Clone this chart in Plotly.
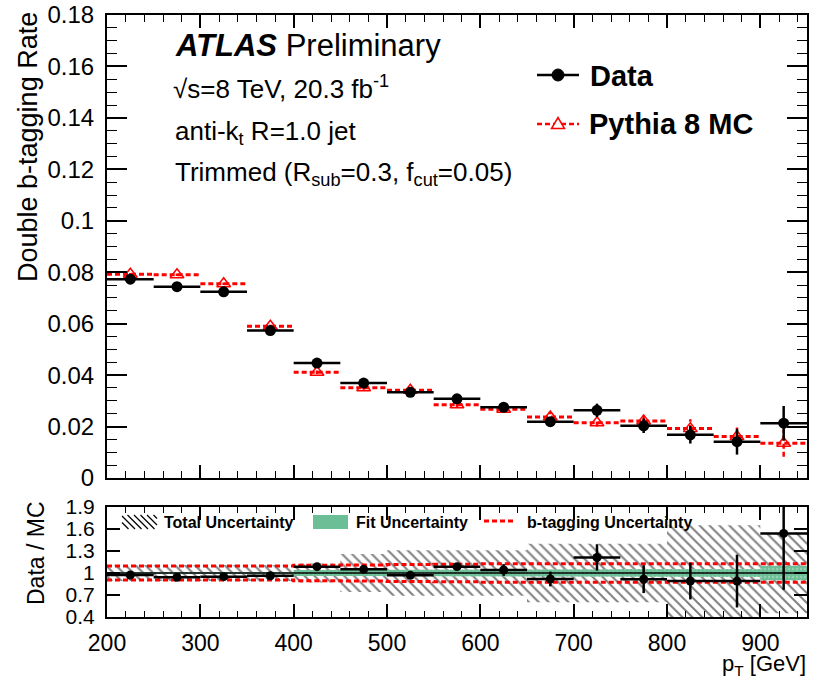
import plotly.graph_objects as go

# ---------------- data ----------------
bin_edges = [200, 250, 300, 350, 400, 450, 500, 550, 600, 650, 700, 750, 800, 850, 900, 950]
pt_centers = [225, 275, 325, 375, 425, 475, 525, 575, 625, 675, 725, 775, 825, 875, 925]
half_width = [25] * 15

data_rate = [0.0773, 0.0744, 0.0724, 0.0573, 0.0447, 0.0369, 0.0333, 0.0308,
             0.0275, 0.0219, 0.0263, 0.0203, 0.0168, 0.0141, 0.0213]
data_err = [0.0008, 0.0008, 0.0008, 0.0008, 0.0010, 0.0010, 0.0010, 0.0012,
            0.0015, 0.0015, 0.0026, 0.0028, 0.0034, 0.0050, 0.0067]
mc_rate = [0.0792, 0.0790, 0.0755, 0.0590, 0.0411, 0.0351, 0.0341, 0.0285,
           0.0267, 0.0237, 0.0215, 0.0222, 0.0192, 0.0161, 0.0135]
mc_err = [0.0005, 0.0005, 0.0005, 0.0006, 0.0007, 0.0008, 0.0009, 0.0010,
          0.0012, 0.0020, 0.0015, 0.0030, 0.0036, 0.0035, 0.0052]

ratio = [0.973, 0.941, 0.950, 0.963, 1.086, 1.050, 0.968, 1.086,
         1.041, 0.918, 1.212, 0.916, 0.890, 0.890, 1.540]
ratio_err = [0.015, 0.015, 0.015, 0.020, 0.030, 0.035, 0.040, 0.050,
             0.080, 0.100, 0.180, 0.190, 0.250, 0.360, 0.770]
total_unc = [0.11, 0.11, 0.11, 0.11, 0.13, 0.26, 0.31, 0.31,
             0.31, 0.40, 0.40, 0.40, 0.65, 0.65, 0.55]
fit_unc = [0.015, 0.015, 0.015, 0.015, 0.040, 0.040, 0.040, 0.045,
           0.050, 0.050, 0.050, 0.055, 0.055, 0.055, 0.100]
btag_unc = [0.095, 0.095, 0.095, 0.095, 0.105, 0.110, 0.115, 0.120,
            0.125, 0.125, 0.125, 0.125, 0.125, 0.125, 0.125]

rate_ticks = [0, 0.02, 0.04, 0.06, 0.08, 0.10, 0.12, 0.14, 0.16, 0.18]
rate_labels = ["0", "0.02", "0.04", "0.06", "0.08", "0.1", "0.12", "0.14", "0.16", "0.18"]
ratio_ticks = [0.4, 0.7, 1.0, 1.3, 1.6, 1.9]
ratio_labels = ["0.4", "0.7", "1", "1.3", "1.6", "1.9"]
pt_ticks = [200, 300, 400, 500, 600, 700, 800, 900]
pt_labels = ["200", "300", "400", "500", "600", "700", "800", "900"]

# ---------------- layout geometry ----------------
W, H = 819, 680
L, R, T, B = 107, 12, 15, 63
PW = W - L - R
PH = H - T - B
FONT = "Liberation Sans, Arial, Helvetica, sans-serif"
RED = "rgb(255,0,0)"
GREEN = "rgb(108,190,150)"


def px(xp):
    return (xp - L) / PW


def py(yp):
    return (H - B - yp) / PH


top_dom = [py(478), 1.0]
bot_dom = [0.0, py(507)]

fig = go.Figure()

# ---------------- top panel ----------------
mc_hx, mc_hy, mc_vx, mc_vy = [], [], [], []
for lo, hi, c, v, e in zip(bin_edges[:-1], bin_edges[1:], pt_centers, mc_rate, mc_err):
    mc_hx += [lo, hi, None]
    mc_hy += [v, v, None]
    mc_vx += [c, c, None]
    mc_vy += [v - e, v + e, None]

fig.add_trace(go.Scatter(x=mc_hx, y=mc_hy, mode="lines", xaxis="x", yaxis="y",
                         line=dict(color=RED, width=3, dash="5px,3px"),
                         showlegend=False, hoverinfo="skip"))
fig.add_trace(go.Scatter(x=mc_vx, y=mc_vy, mode="lines", xaxis="x", yaxis="y",
                         line=dict(color=RED, width=2.5, dash="5px,3px"),
                         showlegend=False, hoverinfo="skip"))
fig.add_trace(go.Scatter(x=pt_centers, y=mc_rate, mode="markers", xaxis="x", yaxis="y",
                         marker=dict(symbol="triangle-up-open", size=12, color=RED,
                                     line=dict(width=1.5, color=RED)),
                         name="Pythia 8 MC", showlegend=False))
fig.add_trace(go.Scatter(x=pt_centers, y=data_rate, mode="markers", xaxis="x", yaxis="y",
                         marker=dict(symbol="circle", size=11, color="black"),
                         error_x=dict(type="data", array=half_width, width=0,
                                      thickness=2.5, color="black"),
                         error_y=dict(type="data", array=data_err, width=0,
                                      thickness=2.5, color="black"),
                         name="Data", showlegend=False))

# ---------------- ratio panel ----------------
def band(unc):
    xs, ys = [], []
    for lo, hi, u in zip(bin_edges[:-1], bin_edges[1:], unc):
        xs += [lo, hi]
        ys += [1 + u, 1 + u]
    for lo, hi, u in reversed(list(zip(bin_edges[:-1], bin_edges[1:], unc))):
        xs += [hi, lo]
        ys += [1 - u, 1 - u]
    return xs, ys


tx, ty = band(total_unc)
fig.add_trace(go.Scatter(x=tx, y=ty, mode="lines", fill="toself", xaxis="x2", yaxis="y2",
                         line=dict(width=0, color="rgba(0,0,0,0)"),
                         fillcolor="rgba(255,255,255,0)",
                         fillpattern=dict(shape="\\", fgcolor="black",
                                          bgcolor="rgba(255,255,255,0)",
                                          size=7, solidity=0.28),
                         showlegend=False, hoverinfo="skip"))
fx, fy = band(fit_unc)
fig.add_trace(go.Scatter(x=fx, y=fy, mode="lines", fill="toself", xaxis="x2", yaxis="y2",
                         line=dict(width=0, color="rgba(0,0,0,0)"),
                         fillcolor=GREEN,
                         fillpattern=dict(shape=".", fgcolor="rgb(185,225,205)",
                                          bgcolor=GREEN, size=4, solidity=0.3),
                         showlegend=False, hoverinfo="skip"))
for sgn in (1, -1):
    fig.add_trace(go.Scatter(x=bin_edges, y=[1 + sgn * u for u in btag_unc] + [1 + sgn * btag_unc[-1]],
                             mode="lines", line_shape="hv", xaxis="x2", yaxis="y2",
                             line=dict(color=RED, width=3, dash="5px,3px"),
                             showlegend=False, hoverinfo="skip"))
fig.add_trace(go.Scatter(x=[bin_edges[0], bin_edges[-1]], y=[1.0, 1.0], mode="lines",
                         xaxis="x2", yaxis="y2", line=dict(color="black", width=1.5),
                         showlegend=False, hoverinfo="skip"))
fig.add_trace(go.Scatter(x=pt_centers, y=ratio, mode="markers", xaxis="x2", yaxis="y2",
                         marker=dict(symbol="circle", size=9, color="black"),
                         error_x=dict(type="data", array=half_width, width=0,
                                      thickness=2.5, color="black"),
                         error_y=dict(type="data", array=ratio_err, width=0,
                                      thickness=2.5, color="black"),
                         showlegend=False))

# ---------------- axes ----------------
common = dict(showline=True, linecolor="black", linewidth=2, mirror="allticks",
              ticks="inside", tickcolor="black", tickwidth=1.5, showgrid=False,
              zeroline=False, automargin=False)


def tfont(size):
    return dict(family=FONT, size=size, color="black")


fig.update_layout(
    width=W, height=H,
    margin=dict(l=L, r=R, t=T, b=B, autoexpand=False),
    paper_bgcolor="white", plot_bgcolor="white",
    showlegend=False,
    xaxis=dict(domain=[0, 1], anchor="y", range=[200, 950], matches="x2",
               tickvals=pt_ticks, showticklabels=False, ticklen=13,
               minor=dict(dtick=20, tick0=200, ticklen=7, ticks="inside",
                          tickcolor="black", tickwidth=1.2),
               **common),
    yaxis=dict(domain=top_dom, anchor="x", range=[0, 0.18],
               tickvals=rate_ticks, ticktext=rate_labels, ticklen=20,
               ticklabelstandoff=6, tickfont=tfont(24),
               minor=dict(dtick=0.005, tick0=0, ticklen=10, ticks="inside",
                          tickcolor="black", tickwidth=1.2),
               **common),
    xaxis2=dict(domain=[0, 1], anchor="y2", range=[200, 950],
                tickvals=pt_ticks, ticktext=pt_labels, ticklen=13,
                ticklabelstandoff=4, tickfont=tfont(23),
                minor=dict(dtick=20, tick0=200, ticklen=6, ticks="inside",
                           tickcolor="black", tickwidth=1.2),
                **common),
    yaxis2=dict(domain=bot_dom, anchor="x2", range=[0.4, 1.9],
                tickvals=ratio_ticks, ticktext=ratio_labels, ticklen=13,
                ticklabelstandoff=6, tickfont=tfont(21),
                **common),
)

# ---------------- texts ----------------
ann = []


def text(s, xp, yp, size, xanchor="left", angle=0, bold=False):
    ann.append(dict(text=("<b>%s</b>" % s) if bold else s, xref="paper", yref="paper",
                    x=px(xp), y=py(yp), xanchor=xanchor, yanchor="middle",
                    textangle=angle, showarrow=False,
                    font=dict(family=FONT, size=size, color="black")))


text("Double b-tagging Rate", 28, 147, 27, xanchor="center", angle=-90)
text("Data / MC", 36, 553, 23, xanchor="center", angle=-90)
text("p<sub>T</sub> [GeV]", 808, 665, 22, xanchor="right")
text("<b><i>ATLAS</i></b> Preliminary", 173, 45, 31)
text("√s=8 TeV, 20.3 fb<sup>-1</sup>", 171, 88, 26)
text("anti-k<sub>t</sub> R=1.0 jet", 173, 133, 26)
text("Trimmed (R<sub>sub</sub>=0.3, f<sub>cut</sub>=0.05)", 173, 173, 26)
text("Data", 588, 76, 29, bold=True)
text("Pythia 8 MC", 587, 124, 29, bold=True)
text("Total Uncertainty", 162, 522, 16, bold=True)
text("Fit Uncertainty", 354, 522, 16, bold=True)
text("b-tagging Uncertainty", 525, 522, 16, bold=True)

shapes = []
# top legend symbols
shapes.append(dict(type="line", xref="paper", yref="paper", x0=px(537), x1=px(579),
                   y0=py(75), y1=py(75), line=dict(color="black", width=2.5)))
shapes.append(dict(type="circle", xref="paper", yref="paper", x0=px(552), x1=px(564),
                   y0=py(69), y1=py(81), fillcolor="black", line=dict(color="black", width=1)))
shapes.append(dict(type="line", xref="paper", yref="paper", x0=px(537), x1=px(579),
                   y0=py(124), y1=py(124), line=dict(color=RED, width=2.5, dash="5px,3px")))
shapes.append(dict(type="path", xref="paper", yref="paper",
                   path="M %f %f L %f %f L %f %f Z" % (px(551.5), py(128.5), px(564.5), py(128.5),
                                                       px(558), py(117.5)),
                   fillcolor="white", line=dict(color=RED, width=1.5)))
# ratio legend symbols
bx0, bx1, by0, by1 = 122, 157, 515, 529
h = by1 - by0
x0 = bx0 - h
while x0 < bx1:
    tmin = max(0, bx0 - x0)
    tmax = min(h, bx1 - x0)
    if tmax > tmin:
        shapes.append(dict(type="line", xref="paper", yref="paper",
                           x0=px(x0 + tmin), y0=py(by0 + tmin),
                           x1=px(x0 + tmax), y1=py(by0 + tmax),
                           line=dict(color="black", width=1.2)))
    x0 += 6.5
shapes.append(dict(type="rect", xref="paper", yref="paper", x0=px(313), x1=px(348),
                   y0=py(529), y1=py(515), fillcolor=GREEN, line=dict(width=0)))
shapes.append(dict(type="line", xref="paper", yref="paper", x0=px(484), x1=px(516),
                   y0=py(521), y1=py(521), line=dict(color=RED, width=3, dash="5px,3px")))

fig.update_layout(annotations=ann, shapes=shapes)

fig.write_html("out.html")
